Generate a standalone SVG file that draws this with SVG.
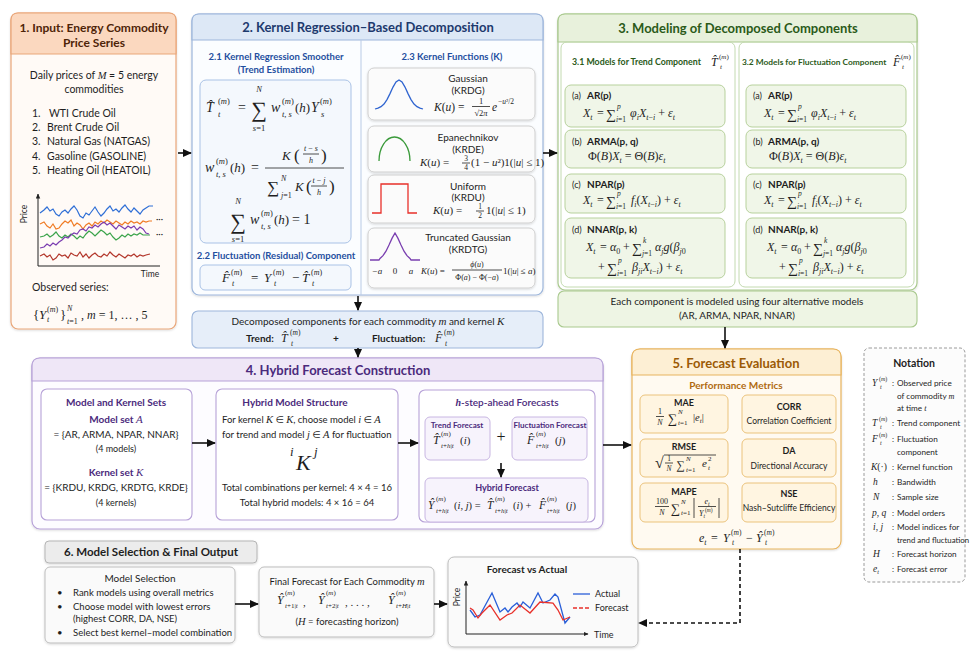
<svg xmlns="http://www.w3.org/2000/svg" width="975" height="653" viewBox="0 0 975 653">
<defs>
<marker id="ah" viewBox="0 0 10 10" refX="9" refY="5" markerWidth="9" markerHeight="9" markerUnits="userSpaceOnUse" orient="auto"><path d="M0,0.5 L10,5 L0,9.5 Z" fill="#111"/></marker>
<marker id="ahs" viewBox="0 0 10 10" refX="9" refY="5" markerWidth="5" markerHeight="5" markerUnits="userSpaceOnUse" orient="auto"><path d="M0,0.5 L10,5 L0,9.5 Z" fill="#222"/></marker>
<filter id="sh" x="-5%" y="-5%" width="110%" height="115%"><feDropShadow dx="0" dy="1" stdDeviation="1.2" flood-color="#000" flood-opacity="0.15"/></filter>
<style>
.m{font-family:"Liberation Serif","DejaVu Serif",serif;font-style:italic}
.u{font-family:"Liberation Serif","DejaVu Serif",serif;font-style:normal}
.b{font-weight:bold}
.c{text-anchor:middle}
.conn{fill:none;stroke:#111;stroke-width:1.6}
.kb{fill:#fbfbfb;stroke:#cfcfcf;stroke-width:1}
.gb{fill:#f0f6e8;stroke:#b7d19c;stroke-width:1}
.pb{fill:#ffffff;stroke:#b7a2d8;stroke-width:1.1}
.psb{fill:#f7f3fc;stroke:#c8b6e2;stroke-width:1}
.ob{fill:#fff5e1;stroke:#ebc37c;stroke-width:1}
.grb{fill:#fafafa;stroke:#bdbdbd;stroke-width:1}
.fl{stroke:#222;stroke-width:0.8}
.ax{stroke:#222;stroke-width:1;fill:none}
</style>
</defs>
<rect width="975" height="653" fill="#ffffff"/>
<g font-family="Lato, 'Open Sans', 'DejaVu Sans', sans-serif" font-size="10" fill="#1e1e1e">

<!-- Section 1 -->
<g id="input">
<rect x="11" y="13" width="165" height="316" rx="7" fill="#fffaf6" stroke="#e9a679" stroke-width="1.2" filter="url(#sh)"/>
<path d="M11,54 V20 Q11,13 18,13 H169 Q176,13 176,20 V54 Z" fill="#fbd8bf" stroke="#e9a679" stroke-width="1.2"/>
<text class="c b" x="94" y="32" font-size="12" fill="#4e2408">1. Input: Energy Commodity</text>
<text class="c b" x="94" y="47" font-size="12" fill="#4e2408">Price Series</text>
<text class="c" x="94" y="79" font-size="10.5">Daily prices of <tspan class="m">M</tspan> = 5 energy</text>
<text class="c" x="94" y="93" font-size="10.5">commodities</text>
<g font-size="10.5">
<text x="32" y="117">1.</text><text x="49" y="117">WTI Crude Oil</text>
<text x="32" y="131">2.</text><text x="47" y="131">Brent Crude Oil</text>
<text x="32" y="145">3.</text><text x="47" y="145">Natural Gas (NATGAS)</text>
<text x="32" y="160">4.</text><text x="47" y="160">Gasoline (GASOLINE)</text>
<text x="32" y="174">5.</text><text x="47" y="174">Heating Oil (HEATOIL)</text>
</g>
<line class="ax" x1="38" y1="266" x2="38" y2="194" marker-end="url(#ahs)"/>
<line class="ax" x1="38" y1="266" x2="160" y2="266"/>
<text class="c" x="0" y="0" font-size="8.5" transform="translate(27,214) rotate(-90)">Price</text>
<text class="c" x="150" y="277" font-size="8.5">Time</text>
<polyline fill="none" stroke="#2f6fd6" stroke-width="1.2" points="40,213 44,210 47,207 50,211 53,209 56,214 59,216 62,212 65,210 68,213 71,209 74,206 77,210 80,216 83,218 86,213 89,215 92,211 95,207 98,212 101,216 104,213 107,209 110,206 113,211 116,209 119,212 122,208 125,205 128,209 131,212 134,208 137,211 140,214 143,210 146,208 149,206 153,206"/>
<polyline fill="none" stroke="#f07b24" stroke-width="1.2" points="40,224 44,222 47,226 50,228 53,224 56,229 59,228 62,224 65,221 68,223 71,220 74,226 77,223 80,225 83,229 86,225 89,223 92,226 95,222 98,224 101,221 104,223 107,220 110,222 113,224 116,221 119,223 122,225 125,222 128,224 131,221 134,223 137,222 140,224 143,221 146,222 149,221 152,221"/>
<polyline fill="none" stroke="#3aa34a" stroke-width="1.2" points="40,237 44,236 47,234 50,237 53,235 56,232 59,236 62,238 65,235 68,237 71,234 74,236 77,239 80,236 83,238 86,234 89,231 92,233 95,236 98,233 101,230 104,232 107,235 110,233 113,237 116,240 119,238 122,235 125,237 128,234 131,236 134,234 137,235 140,233 143,235 146,235 150,235"/>
<polyline fill="none" stroke="#7a3bb0" stroke-width="1.2" points="40,248 44,247 47,244 50,246 53,243 56,245 59,242 62,240 65,237 68,238 71,235 74,233 77,234 80,230 83,229 86,231 89,227 92,228 95,225 98,227 101,224 104,222 107,225 110,223 113,226 116,229 119,225 122,227 125,229 128,226 131,228 134,226 137,230 140,227 143,229 146,233 149,234"/>
<polyline fill="none" stroke="#b3362b" stroke-width="1.2" points="40,256 44,254 47,257 50,255 53,260 56,258 59,254 62,256 65,255 68,258 71,253 74,255 77,256 80,252 83,257 86,254 89,258 92,255 95,253 98,256 101,257 104,254 107,256 110,252 113,255 116,257 119,254 122,256 125,258 128,255 131,256 134,254 137,257 140,255 143,256 146,255 150,254"/>
<text x="156" y="222" font-size="9">···</text>
<text x="156" y="237" font-size="9">···</text>
<text x="32" y="291" font-size="10.5">Observed series:</text>
<text class="u" x="33" y="319" font-size="13">{</text>
<text class="m" x="39" y="319" font-size="13">Y</text>
<text class="u" x="47" y="312" font-size="8">(<tspan class="m">m</tspan>)</text>
<text class="m" x="47" y="322" font-size="8">t</text>
<text class="u" x="60" y="319" font-size="13">}</text>
<text class="m" x="67" y="311" font-size="8">N</text>
<text class="m" x="67" y="324" font-size="8">t<tspan class="u">=1</tspan></text>
<text class="u" x="81" y="319" font-size="12">, <tspan class="m">m</tspan> = 1, … , 5</text>
</g>

<!-- Section 2 -->
<g id="decomposition">
<rect x="192" y="14" width="351" height="281" rx="7" fill="#fbfdff" stroke="#9db6db" stroke-width="1.2" filter="url(#sh)"/>
<path d="M192,40 V21 Q192,14 199,14 H536 Q543,14 543,21 V40 Z" fill="#dde8f6" stroke="#9db6db" stroke-width="1.2"/>
<text class="c b" x="368" y="32" font-size="13" fill="#1e3a6e">2. Kernel Regression–Based Decomposition</text>
<line x1="361" y1="40" x2="361" y2="295" stroke="#b9cbe6" stroke-width="1"/>
<text class="c b" x="276" y="60" font-size="9.5" fill="#1f4fa0">2.1 Kernel Regression Smoother</text>
<text class="c b" x="276" y="73" font-size="9.5" fill="#1f4fa0">(Trend Estimation)</text>
<rect x="200" y="80" width="151" height="163" rx="6" fill="#f4f8fd" stroke="#a9c2e6"/>
<!-- formula 1 -->
<text class="m" x="206" y="112" font-size="14">T̂</text>
<text class="u" x="218" y="104" font-size="8.5">(<tspan class="m">m</tspan>)</text>
<text class="m" x="218" y="117" font-size="8.5">t</text>
<text class="u" x="238" y="112" font-size="14">=</text>
<text class="u c" x="259" y="117" font-size="22">∑</text>
<text class="m c" x="259" y="92" font-size="8.5">N</text>
<text class="m c" x="259" y="131" font-size="8.5">s<tspan class="u">=1</tspan></text>
<text class="m" x="271" y="112" font-size="14">w</text>
<text class="u" x="282" y="104" font-size="8.5">(<tspan class="m">m</tspan>)</text>
<text class="m" x="282" y="117" font-size="8.5">t, s</text>
<text class="u" x="295" y="112" font-size="13">(<tspan class="m">h</tspan>)</text>
<text class="m" x="311" y="112" font-size="14">Y</text>
<text class="u" x="320" y="104" font-size="8.5">(<tspan class="m">m</tspan>)</text>
<text class="m" x="321" y="117" font-size="8.5">s</text>
<!-- formula 2 -->
<text class="m" x="205" y="172" font-size="14">w</text>
<text class="u" x="216" y="164" font-size="8.5">(<tspan class="m">m</tspan>)</text>
<text class="m" x="216" y="177" font-size="8.5">t, s</text>
<text class="u" x="230" y="172" font-size="13">(<tspan class="m">h</tspan>)</text>
<text class="u" x="251" y="172" font-size="14">=</text>
<line class="fl" x1="265" y1="168" x2="344" y2="168"/>
<text class="m" x="282" y="160" font-size="13">K</text>
<text class="u" x="294" y="161" font-size="17">(</text>
<text class="m c" x="311" y="151" font-size="8">t <tspan class="u">−</tspan> s</text>
<line class="fl" x1="303" y1="154" x2="319" y2="154" stroke-width="0.6"/>
<text class="m c" x="311" y="163" font-size="8">h</text>
<text class="u" x="321" y="161" font-size="17">)</text>
<text class="u c" x="273" y="193" font-size="17">∑</text>
<text class="m" x="281" y="181" font-size="8">N</text>
<text class="m" x="281" y="198" font-size="8">j<tspan class="u">=1</tspan></text>
<text class="m" x="295" y="191" font-size="13">K</text>
<text class="u" x="306" y="192" font-size="17">(</text>
<text class="m c" x="319" y="183" font-size="8">t <tspan class="u">−</tspan> j</text>
<line class="fl" x1="311" y1="186" x2="327" y2="186" stroke-width="0.6"/>
<text class="m c" x="319" y="195" font-size="8">h</text>
<text class="u" x="329" y="192" font-size="17">)</text>
<!-- formula 3 -->
<text class="u c" x="238" y="229" font-size="22">∑</text>
<text class="m c" x="238" y="204" font-size="8.5">N</text>
<text class="m c" x="238" y="242" font-size="8.5">s<tspan class="u">=1</tspan></text>
<text class="m" x="250" y="224" font-size="14">w</text>
<text class="u" x="261" y="216" font-size="8.5">(<tspan class="m">m</tspan>)</text>
<text class="m" x="261" y="229" font-size="8.5">t, s</text>
<text class="u" x="274" y="224" font-size="13">(<tspan class="m">h</tspan>)</text>
<text class="u" x="292" y="224" font-size="14">= 1</text>
<text class="c b" x="276" y="259" font-size="9.5" fill="#1f4fa0">2.2 Fluctuation (Residual) Component</text>
<rect x="200" y="265" width="151" height="25" rx="5" fill="#f4f8fd" stroke="#a9c2e6"/>
<text class="m" x="222" y="282" font-size="13">F̂</text>
<text class="u" x="231" y="275" font-size="8">(<tspan class="m">m</tspan>)</text>
<text class="m" x="232" y="286" font-size="8">t</text>
<text class="u" x="251" y="282" font-size="13">=</text>
<text class="m" x="264" y="282" font-size="13">Y</text>
<text class="u" x="273" y="275" font-size="8">(<tspan class="m">m</tspan>)</text>
<text class="m" x="274" y="286" font-size="8">t</text>
<text class="u" x="292" y="282" font-size="13">−</text>
<text class="m" x="302" y="282" font-size="13">T̂</text>
<text class="u" x="311" y="275" font-size="8">(<tspan class="m">m</tspan>)</text>
<text class="m" x="312" y="286" font-size="8">t</text>
<!-- 2.3 kernels -->
<text class="c b" x="452" y="60" font-size="9.5" fill="#1f4fa0">2.3 Kernel Functions (K)</text>
<g id="k-gauss">
<rect class="kb" x="368" y="68" width="167" height="52" rx="6" filter="url(#sh)"/>
<polyline fill="none" stroke="#2f64d0" stroke-width="1.3" points="375,109 378,108.1 381,106.7 384,104 387,99.6 390,93.6 393,87.1 396,82 399,80 402,82 405,87.1 408,93.6 411,99.6 414,104 417,106.7 420,108.1 423,109"/>
<text class="c" x="468" y="82">Gaussian</text>
<text class="c" x="468" y="94">(KRDG)</text>
<text class="m" x="434" y="111" font-size="11.5">K<tspan class="u">(</tspan>u<tspan class="u">) =</tspan></text>
<text class="u c" x="481" y="104" font-size="8.5">1</text>
<line class="fl" x1="472" y1="106.5" x2="490" y2="106.5"/>
<text class="u c" x="481" y="116" font-size="8.5">√2<tspan class="m">π</tspan></text>
<text class="m" x="492" y="111" font-size="11.5">e</text>
<text class="u" x="498" y="104" font-size="7.5">−<tspan class="m">u</tspan>²/2</text>
</g>
<g id="k-epan">
<rect class="kb" x="368" y="126" width="167" height="46" rx="6" filter="url(#sh)"/>
<path d="M379,161 A15.5,24 0 0 1 410,161" fill="none" stroke="#3a9a3a" stroke-width="1.3"/>
<text class="c" x="468" y="141">Epanechnikov</text>
<text class="c" x="468" y="153">(KRDE)</text>
<text class="m" x="420" y="166" font-size="11">K<tspan class="u">(</tspan>u<tspan class="u">) =</tspan></text>
<text class="u c" x="466" y="161" font-size="7.5">3</text>
<line class="fl" x1="462" y1="163" x2="470" y2="163" stroke-width="0.6"/>
<text class="u c" x="466" y="170" font-size="7.5">4</text>
<text class="u" x="471" y="166" font-size="11">(1 − <tspan class="m">u</tspan>²)1(|<tspan class="m">u</tspan>| ≤ 1)</text>
</g>
<g id="k-unif">
<rect class="kb" x="368" y="175" width="167" height="48" rx="6" filter="url(#sh)"/>
<path d="M372,213 H381 V184 H408 V213 H417" fill="none" stroke="#e8302a" stroke-width="1.3"/>
<text class="c" x="468" y="190">Uniform</text>
<text class="c" x="468" y="201">(KRDU)</text>
<text class="m" x="433" y="214" font-size="11">K<tspan class="u">(</tspan>u<tspan class="u">) =</tspan></text>
<text class="u c" x="480" y="209" font-size="7.5">1</text>
<line class="fl" x1="476" y1="211" x2="484" y2="211" stroke-width="0.6"/>
<text class="u c" x="480" y="218" font-size="7.5">2</text>
<text class="u" x="486" y="214" font-size="11">1(|<tspan class="m">u</tspan>| ≤ 1)</text>
</g>
<g id="k-trunc">
<rect class="kb" x="368" y="228" width="167" height="60" rx="6" filter="url(#sh)"/>
<polyline fill="none" stroke="#7a3fb0" stroke-width="1.3" points="370,260 379,260 380,258.5 383,255.7 386,251.2 389,245 392,238.4 395,233 398,238.4 401,245 404,251.2 407,255.7 410,258.5 411,260 420,260"/>
<text class="m c" x="377" y="274" font-size="9">−a</text>
<text class="u c" x="395" y="274" font-size="9">0</text>
<text class="m c" x="411" y="274" font-size="9">a</text>
<text class="c" x="468" y="241">Truncated Gaussian</text>
<text class="c" x="468" y="253">(KRDTG)</text>
<text class="m" x="421" y="274" font-size="9">K<tspan class="u">(</tspan>u<tspan class="u">) =</tspan></text>
<text class="m c" x="477" y="267" font-size="8">ϕ<tspan class="u">(</tspan>u<tspan class="u">)</tspan></text>
<line class="fl" x1="452" y1="270" x2="502" y2="270" stroke-width="0.6"/>
<text class="u c" x="477" y="280" font-size="8">Φ(<tspan class="m">a</tspan>) − Φ(−<tspan class="m">a</tspan>)</text>
<text class="u" x="503" y="274" font-size="9">1(|<tspan class="m">u</tspan>| ≤ <tspan class="m">a</tspan>)</text>
</g>
</g>

<!-- Decomposed components -->
<g id="decomposed">
<rect x="192" y="311" width="351" height="37" rx="6" fill="#e6eef9" stroke="#9db6db" stroke-width="1.1"/>
<text class="c" x="368" y="325">Decomposed components for each commodity <tspan class="m" font-size="11">m</tspan> and kernel <tspan class="m" font-size="11">K</tspan></text>
<text class="b" x="246" y="342">Trend:</text>
<text class="m" x="281" y="342" font-size="12">T̂</text>
<text class="u" x="290" y="335" font-size="7.5">(<tspan class="m">m</tspan>)</text>
<text class="m" x="291" y="346" font-size="7.5">t</text>
<text class="b" x="333" y="342">+</text>
<text class="b" x="372" y="342">Fluctuation:</text>
<text class="m" x="435" y="342" font-size="12">F̂</text>
<text class="u" x="444" y="335" font-size="7.5">(<tspan class="m">m</tspan>)</text>
<text class="m" x="445" y="346" font-size="7.5">t</text>
</g>

<!-- Section 3 -->
<g id="modeling">
<rect x="558" y="14" width="359" height="276" rx="7" fill="#ffffff" stroke="#a9c98e" stroke-width="1.2" filter="url(#sh)"/>
<path d="M558,42 V21 Q558,14 565,14 H910 Q917,14 917,21 V42 Z" fill="#e8f1dc" stroke="#a9c98e" stroke-width="1.2"/>
<text class="c b" x="738" y="33" font-size="13" fill="#2b5a19">3. Modeling of Decomposed Components</text>
<rect x="561" y="42" width="174" height="245" rx="6" fill="none" stroke="#c3dab0"/>
<rect x="739" y="42" width="175" height="245" rx="6" fill="none" stroke="#c3dab0"/>
<text class="b" x="572" y="65" font-size="8.8" fill="#2b5a19">3.1 Models for Trend Component</text>
<text class="m" x="711" y="66" font-size="12" fill="#222">T̂</text>
<text class="u" x="719" y="59" font-size="7">(<tspan class="m">m</tspan>)</text>
<text class="m" x="720" y="69" font-size="7">t</text>
<text class="b" x="742" y="65" font-size="8.4" fill="#2b5a19">3.2 Models for Fluctuation Component</text>
<text class="m" x="893" y="66" font-size="12" fill="#222">F̂</text>
<text class="u" x="901" y="59" font-size="7">(<tspan class="m">m</tspan>)</text>
<text class="m" x="902" y="69" font-size="7">t</text>

<g id="trend-models">
<rect class="gb" x="565" y="85" width="160" height="42" rx="6"/>
<text x="572" y="99" font-size="9">(a)</text>
<text class="b" x="587" y="99">AR(p)</text>
<text class="m" x="583" y="117" font-size="12">X<tspan font-size="8" dy="3">t</tspan></text>
<text class="u" x="597" y="117" font-size="12">=</text>
<text class="u" x="606" y="119" font-size="14">∑</text>
<text class="m" x="617" y="109" font-size="7.5">p</text>
<text class="m" x="616" y="122" font-size="7.5">i<tspan class="u">=1</tspan></text>
<text class="m" x="630" y="117" font-size="12">φ<tspan font-size="8" dy="3">i</tspan><tspan dy="-3">X</tspan><tspan font-size="8" dy="3">t<tspan class="u">−</tspan>i</tspan><tspan class="u" dy="-3"> + </tspan>ε<tspan font-size="8" dy="3">t</tspan></text>

<rect class="gb" x="565" y="130" width="160" height="38" rx="6"/>
<text x="572" y="145" font-size="9">(b)</text>
<text class="b" x="587" y="145">ARMA(p, q)</text>
<text class="u" x="588" y="160" font-size="12">Φ(<tspan class="m">B</tspan>)<tspan class="m">X</tspan><tspan class="m" font-size="8" dy="3">t</tspan><tspan dy="-3"> = Θ(</tspan><tspan class="m">B</tspan>)<tspan class="m">ε</tspan><tspan class="m" font-size="8" dy="3">t</tspan></text>

<rect class="gb" x="565" y="174" width="160" height="39" rx="6"/>
<text x="572" y="188" font-size="9">(c)</text>
<text class="b" x="587" y="188">NPAR(p)</text>
<text class="m" x="583" y="204" font-size="12">X<tspan font-size="8" dy="3">t</tspan></text>
<text class="u" x="597" y="204" font-size="12">=</text>
<text class="u" x="606" y="206" font-size="14">∑</text>
<text class="m" x="617" y="196" font-size="7.5">p</text>
<text class="m" x="616" y="209" font-size="7.5">i<tspan class="u">=1</tspan></text>
<text class="m" x="631" y="204" font-size="12">f<tspan font-size="8" dy="3">i</tspan><tspan class="u" dy="-3">(</tspan>X<tspan font-size="8" dy="3">t<tspan class="u">−</tspan>i</tspan><tspan class="u" dy="-3">) + </tspan>ε<tspan font-size="8" dy="3">t</tspan></text>

<rect class="gb" x="565" y="218" width="160" height="60" rx="6"/>
<text x="572" y="233" font-size="9">(d)</text>
<text class="b" x="587" y="233">NNAR(p, k)</text>
<text class="m" x="586" y="251" font-size="12">X<tspan font-size="8" dy="3">t</tspan></text>
<text class="u" x="600" y="251" font-size="12">=</text>
<text class="m" x="610" y="251" font-size="12">α<tspan class="u" font-size="8" dy="3">0</tspan></text>
<text class="u" x="623" y="251" font-size="12">+</text>
<text class="u" x="632" y="253" font-size="14">∑</text>
<text class="m" x="643" y="243" font-size="7.5">k</text>
<text class="m" x="642" y="256" font-size="7.5">j<tspan class="u">=1</tspan></text>
<text class="m" x="655" y="251" font-size="12">α<tspan font-size="8" dy="3">j</tspan><tspan dy="-3">g</tspan><tspan class="u">(</tspan>β<tspan font-size="8" dy="3">j<tspan class="u">0</tspan></tspan></text>
<text class="u" x="598" y="271" font-size="12">+</text>
<text class="u" x="607" y="273" font-size="14">∑</text>
<text class="m" x="618" y="263" font-size="7.5">p</text>
<text class="m" x="617" y="276" font-size="7.5">i<tspan class="u">=1</tspan></text>
<text class="m" x="632" y="271" font-size="12">β<tspan font-size="8" dy="3">ji</tspan><tspan dy="-3">X</tspan><tspan font-size="8" dy="3">t<tspan class="u">−</tspan>i</tspan><tspan class="u" dy="-3">) + </tspan>ε<tspan font-size="8" dy="3">t</tspan></text>
</g>

<g id="fluct-models" transform="translate(181,0)">
<rect class="gb" x="565" y="85" width="160" height="42" rx="6"/>
<text x="572" y="99" font-size="9">(a)</text>
<text class="b" x="587" y="99">AR(p)</text>
<text class="m" x="583" y="117" font-size="12">X<tspan font-size="8" dy="3">t</tspan></text>
<text class="u" x="597" y="117" font-size="12">=</text>
<text class="u" x="606" y="119" font-size="14">∑</text>
<text class="m" x="617" y="109" font-size="7.5">p</text>
<text class="m" x="616" y="122" font-size="7.5">i<tspan class="u">=1</tspan></text>
<text class="m" x="630" y="117" font-size="12">φ<tspan font-size="8" dy="3">i</tspan><tspan dy="-3">X</tspan><tspan font-size="8" dy="3">t<tspan class="u">−</tspan>i</tspan><tspan class="u" dy="-3"> + </tspan>ε<tspan font-size="8" dy="3">t</tspan></text>

<rect class="gb" x="565" y="130" width="160" height="38" rx="6"/>
<text x="572" y="145" font-size="9">(b)</text>
<text class="b" x="587" y="145">ARMA(p, q)</text>
<text class="u" x="588" y="160" font-size="12">Φ(<tspan class="m">B</tspan>)<tspan class="m">X</tspan><tspan class="m" font-size="8" dy="3">t</tspan><tspan dy="-3"> = Θ(</tspan><tspan class="m">B</tspan>)<tspan class="m">ε</tspan><tspan class="m" font-size="8" dy="3">t</tspan></text>

<rect class="gb" x="565" y="174" width="160" height="39" rx="6"/>
<text x="572" y="188" font-size="9">(c)</text>
<text class="b" x="587" y="188">NPAR(p)</text>
<text class="m" x="583" y="204" font-size="12">X<tspan font-size="8" dy="3">t</tspan></text>
<text class="u" x="597" y="204" font-size="12">=</text>
<text class="u" x="606" y="206" font-size="14">∑</text>
<text class="m" x="617" y="196" font-size="7.5">p</text>
<text class="m" x="616" y="209" font-size="7.5">i<tspan class="u">=1</tspan></text>
<text class="m" x="631" y="204" font-size="12">f<tspan font-size="8" dy="3">i</tspan><tspan class="u" dy="-3">(</tspan>X<tspan font-size="8" dy="3">t<tspan class="u">−</tspan>i</tspan><tspan class="u" dy="-3">) + </tspan>ε<tspan font-size="8" dy="3">t</tspan></text>

<rect class="gb" x="565" y="218" width="160" height="60" rx="6"/>
<text x="572" y="233" font-size="9">(d)</text>
<text class="b" x="587" y="233">NNAR(p, k)</text>
<text class="m" x="586" y="251" font-size="12">X<tspan font-size="8" dy="3">t</tspan></text>
<text class="u" x="600" y="251" font-size="12">=</text>
<text class="m" x="610" y="251" font-size="12">α<tspan class="u" font-size="8" dy="3">0</tspan></text>
<text class="u" x="623" y="251" font-size="12">+</text>
<text class="u" x="632" y="253" font-size="14">∑</text>
<text class="m" x="643" y="243" font-size="7.5">k</text>
<text class="m" x="642" y="256" font-size="7.5">j<tspan class="u">=1</tspan></text>
<text class="m" x="655" y="251" font-size="12">α<tspan font-size="8" dy="3">j</tspan><tspan dy="-3">g</tspan><tspan class="u">(</tspan>β<tspan font-size="8" dy="3">j<tspan class="u">0</tspan></tspan></text>
<text class="u" x="598" y="271" font-size="12">+</text>
<text class="u" x="607" y="273" font-size="14">∑</text>
<text class="m" x="618" y="263" font-size="7.5">p</text>
<text class="m" x="617" y="276" font-size="7.5">i<tspan class="u">=1</tspan></text>
<text class="m" x="632" y="271" font-size="12">β<tspan font-size="8" dy="3">ji</tspan><tspan dy="-3">X</tspan><tspan font-size="8" dy="3">t<tspan class="u">−</tspan>i</tspan><tspan class="u" dy="-3">) + </tspan>ε<tspan font-size="8" dy="3">t</tspan></text>
</g>
</g>

<g id="each-component">
<rect x="558" y="291" width="359" height="36" rx="6" fill="#eef5e4" stroke="#a9c98e" stroke-width="1.1"/>
<text class="c" x="737" y="305">Each component is modeled using four alternative models</text>
<text class="c" x="737" y="319">(AR, ARMA, NPAR, NNAR)</text>
</g>

<!-- Section 4 -->
<g id="hybrid">
<rect x="32" y="358" width="571" height="171" rx="8" fill="#fdfcff" stroke="#b7a2d8" stroke-width="1.2" filter="url(#sh)"/>
<path d="M32,381 V366 Q32,358 40,358 H595 Q603,358 603,366 V381 Z" fill="#efe7f7" stroke="#b7a2d8" stroke-width="1.2"/>
<text class="c b" x="338" y="375" font-size="13" fill="#4b2a7c">4. Hybrid Forecast Construction</text>
<g id="sets">
<rect class="pb" x="41" y="389" width="151" height="131" rx="6"/>
<text class="c b" x="116" y="406" fill="#4b2a7c">Model and Kernel Sets</text>
<text class="c b" x="116" y="423" fill="#4b2a7c">Model set <tspan class="m" font-weight="normal" font-size="11">A</tspan></text>
<text class="c" x="116" y="438">= {AR, ARMA, NPAR, NNAR}</text>
<text class="c" x="116" y="452" font-size="9">(4 models)</text>
<text class="c b" x="116" y="476" fill="#4b2a7c">Kernel set <tspan class="m" font-weight="normal" font-size="11">K</tspan></text>
<text class="c" x="116" y="491">= {KRDU, KRDG, KRDTG, KRDE}</text>
<text class="c" x="116" y="506" font-size="9">(4 kernels)</text>
</g>
<g id="structure">
<rect class="pb" x="216" y="389" width="182" height="131" rx="6"/>
<text class="c b" x="295" y="406" fill="#4b2a7c">Hybrid Model  Structure</text>
<text x="222" y="423" font-size="9.5">For kernel <tspan class="m" font-size="10.5">K</tspan> ∈ <tspan class="m" font-size="10.5">K</tspan>, choose model <tspan class="m" font-size="10.5">i</tspan> ∈ <tspan class="m" font-size="10.5">A</tspan></text>
<text x="222" y="438" font-size="9.5">for trend and model <tspan class="m" font-size="10.5">j</tspan> ∈ <tspan class="m" font-size="10.5">A</tspan> for fluctuation</text>
<text class="m" x="290" y="456" font-size="13">i</text>
<text class="m" x="296" y="470" font-size="22">K</text>
<text class="m" x="314" y="456" font-size="13">j</text>
<text class="c" x="307" y="491" font-size="9.5">Total combinations per kernel: 4 × 4 = 16</text>
<text class="c" x="307" y="506" font-size="9.5">Total hybrid models: 4 × 16 = 64</text>
</g>
<g id="forecasts">
<rect class="pb" x="419" y="390" width="176" height="132" rx="6"/>
<text class="c" x="507" y="406" fill="#4b2a7c" font-weight="600"><tspan class="m">h</tspan>-step-ahead Forecasts</text>
<rect class="psb" x="425" y="417" width="65" height="43" rx="5"/>
<text class="c b" x="457" y="428" font-size="8" fill="#4b2a7c">Trend Forecast</text>
<text class="m" x="433" y="444" font-size="12">T̂</text>
<text class="u" x="441" y="436" font-size="7">(<tspan class="m">m</tspan>)</text>
<text class="m" x="441" y="448" font-size="7">t<tspan class="u">+</tspan>h<tspan class="u">|</tspan>t</text>
<text class="u" x="460" y="444" font-size="11">(<tspan class="m">i</tspan>)</text>
<text class="u c" x="501" y="442" font-size="16">+</text>
<rect class="psb" x="512" y="417" width="75" height="43" rx="5"/>
<text class="c b" x="550" y="428" font-size="8" fill="#4b2a7c">Fluctuation Forecast</text>
<text class="m" x="527" y="444" font-size="12">F̂</text>
<text class="u" x="536" y="436" font-size="7">(<tspan class="m">m</tspan>)</text>
<text class="m" x="536" y="448" font-size="7">t<tspan class="u">+</tspan>h<tspan class="u">|</tspan>t</text>
<text class="u" x="555" y="444" font-size="11">(<tspan class="m">j</tspan>)</text>
<rect class="psb" x="425" y="478" width="163" height="44" rx="5"/>
<text class="c b" x="507" y="491" font-size="9" fill="#4b2a7c">Hybrid Forecast</text>
<text class="m" x="428" y="509" font-size="11.5">Ŷ</text>
<text class="u" x="436" y="501" font-size="7">(<tspan class="m">m</tspan>)</text>
<text class="m" x="436" y="513" font-size="7">t<tspan class="u">+</tspan>h<tspan class="u">|</tspan>t</text>
<text class="u" x="454" y="509" font-size="10.5">(<tspan class="m">i</tspan>, <tspan class="m">j</tspan>) =</text>
<text class="m" x="487" y="509" font-size="11.5">T̂</text>
<text class="u" x="495" y="501" font-size="7">(<tspan class="m">m</tspan>)</text>
<text class="m" x="495" y="513" font-size="7">t<tspan class="u">+</tspan>h<tspan class="u">|</tspan>t</text>
<text class="u" x="513" y="509" font-size="10.5">(<tspan class="m">i</tspan>) +</text>
<text class="m" x="539" y="509" font-size="11.5">F̂</text>
<text class="u" x="547" y="501" font-size="7">(<tspan class="m">m</tspan>)</text>
<text class="m" x="547" y="513" font-size="7">t<tspan class="u">+</tspan>h<tspan class="u">|</tspan>t</text>
<text class="u" x="566" y="509" font-size="10.5">(<tspan class="m">j</tspan>)</text>
</g>
</g>

<!-- Section 5 -->
<g id="evaluation">
<rect x="632" y="349" width="209" height="200" rx="8" fill="#fffaf1" stroke="#e8b45e" stroke-width="1.2" filter="url(#sh)"/>
<path d="M632,375 V357 Q632,349 640,349 H833 Q841,349 841,357 V375 Z" fill="#fdefd4" stroke="#e8b45e" stroke-width="1.2"/>
<text class="c b" x="736" y="368" font-size="13" fill="#9b5a05">5. Forecast Evaluation</text>
<text class="c b" x="736" y="389" font-size="10" fill="#b06a10">Performance Metrics</text>
<rect class="ob" x="640" y="395" width="88" height="38" rx="5"/>
<rect class="ob" x="742" y="395" width="94" height="38" rx="5"/>
<rect class="ob" x="640" y="439" width="88" height="38" rx="5"/>
<rect class="ob" x="742" y="439" width="94" height="38" rx="5"/>
<rect class="ob" x="640" y="483" width="88" height="39" rx="5"/>
<rect class="ob" x="742" y="483" width="94" height="39" rx="5"/>
<text class="c b" x="684" y="406" font-size="9">MAE</text>
<text class="u c" x="660" y="414" font-size="8">1</text>
<line class="fl" x1="656" y1="416.5" x2="664" y2="416.5" stroke-width="0.6"/>
<text class="m c" x="660" y="425" font-size="8">N</text>
<text class="u" x="668" y="423" font-size="13">∑</text>
<text class="m" x="678" y="414" font-size="7">N</text>
<text class="m" x="678" y="425" font-size="7">t<tspan class="u">=1</tspan></text>
<text class="u" x="693" y="421" font-size="10.5">|<tspan class="m">e</tspan><tspan class="m" font-size="7" dy="2">t</tspan><tspan dy="-2">|</tspan></text>
<text class="c b" x="789" y="410" font-size="9">CORR</text>
<text class="c" x="789" y="424" font-size="8.5">Correlation Coefficient</text>
<text class="c b" x="684" y="450" font-size="9">RMSE</text>
<text class="u" x="655" y="468" font-size="16">√</text>
<line class="fl" x1="664" y1="455" x2="716" y2="455"/>
<text class="u c" x="669" y="461" font-size="7.5">1</text>
<line class="fl" x1="665" y1="463" x2="673" y2="463" stroke-width="0.6"/>
<text class="m c" x="669" y="471" font-size="7.5">N</text>
<text class="u" x="676" y="469" font-size="12">∑</text>
<text class="m" x="686" y="461" font-size="7">N</text>
<text class="m" x="686" y="472" font-size="7">t<tspan class="u">=1</tspan></text>
<text class="m" x="702" y="467" font-size="11">e</text>
<text class="u" x="708" y="461" font-size="7">2</text>
<text class="m" x="708" y="470" font-size="7">t</text>
<text class="c b" x="789" y="454" font-size="9">DA</text>
<text class="c" x="789" y="469" font-size="8.5">Directional Accuracy</text>
<text class="c b" x="684" y="495" font-size="9">MAPE</text>
<text class="u c" x="662" y="504" font-size="8">100</text>
<line class="fl" x1="655" y1="506.5" x2="669" y2="506.5" stroke-width="0.6"/>
<text class="m c" x="662" y="515" font-size="8">N</text>
<text class="u" x="671" y="513" font-size="13">∑</text>
<text class="m" x="681" y="504" font-size="7">N</text>
<text class="m" x="681" y="515" font-size="7">t<tspan class="u">=1</tspan></text>
<line class="fl" x1="694" y1="498" x2="694" y2="518"/>
<text class="m c" x="707" y="504" font-size="8">e<tspan font-size="6" dy="2">t</tspan></text>
<line class="fl" x1="698" y1="506.5" x2="716" y2="506.5" stroke-width="0.6"/>
<text class="m" x="699" y="516" font-size="8">Y<tspan font-size="5.5" dy="2">t</tspan><tspan class="u" font-size="5.5" dy="-6">(</tspan><tspan font-size="5.5">m</tspan><tspan class="u" font-size="5.5">)</tspan></text>
<line class="fl" x1="719" y1="498" x2="719" y2="518"/>
<text class="c b" x="789" y="497" font-size="9">NSE</text>
<text class="c" x="789" y="511" font-size="8.5">Nash–Sutcliffe Efficiency</text>
<text class="m" x="699" y="542" font-size="12">e<tspan font-size="8" dy="3">t</tspan></text>
<text class="u" x="711" y="542" font-size="12">=</text>
<text class="m" x="723" y="542" font-size="12">Y</text>
<text class="u" x="731" y="535" font-size="7.5">(<tspan class="m">m</tspan>)</text>
<text class="m" x="732" y="545" font-size="7.5">t</text>
<text class="u" x="746" y="542" font-size="12">−</text>
<text class="m" x="756" y="542" font-size="12">Ŷ</text>
<text class="u" x="764" y="535" font-size="7.5">(<tspan class="m">m</tspan>)</text>
<text class="m" x="765" y="545" font-size="7.5">t</text>
</g>

<!-- Notation -->
<g id="notation">
<rect x="864" y="348" width="101" height="234" rx="5" fill="#fcfcfc" stroke="#9a9a9a" stroke-dasharray="3,2"/>
<text class="c b" x="914" y="367" font-size="10.5">Notation</text>
<g font-size="8.2">
<text class="m" x="872" y="386" font-size="9.5">Y</text><text class="u" x="879" y="381" font-size="6">(<tspan class="m">m</tspan>)</text><text class="m" x="880" y="389" font-size="6">t</text>
<text x="892" y="386">:</text><text x="897" y="386">Observed price</text>
<text x="897" y="399">of commodity <tspan class="m">m</tspan></text>
<text x="897" y="411">at time <tspan class="m">t</tspan></text>
<text class="m" x="872" y="426" font-size="9.5">T</text><text class="u" x="879" y="421" font-size="6">(<tspan class="m">m</tspan>)</text><text class="m" x="880" y="429" font-size="6">t</text>
<text x="892" y="426">:</text><text x="897" y="426">Trend component</text>
<text class="m" x="872" y="442" font-size="9.5">F</text><text class="u" x="879" y="437" font-size="6">(<tspan class="m">m</tspan>)</text><text class="m" x="880" y="445" font-size="6">t</text>
<text x="892" y="442">:</text><text x="897" y="442">Fluctuation</text>
<text x="897" y="455">component</text>
<text class="m" x="871" y="470" font-size="9.5">K<tspan class="u">(·)</tspan></text>
<text x="892" y="470">:</text><text x="897" y="470">Kernel function</text>
<text class="m" x="873" y="485" font-size="9.5">h</text>
<text x="892" y="485">:</text><text x="897" y="485">Bandwidth</text>
<text class="m" x="873" y="500" font-size="9.5">N</text>
<text x="892" y="500">:</text><text x="897" y="500">Sample size</text>
<text class="m" x="872" y="516" font-size="9.5">p<tspan class="u">, </tspan>q</text>
<text x="892" y="516">:</text><text x="897" y="516">Model orders</text>
<text class="m" x="873" y="530" font-size="9.5">i<tspan class="u">, </tspan>j</text>
<text x="892" y="530">:</text><text x="897" y="530">Model indices for</text>
<text x="897" y="543" font-size="7.8">trend and fluctuation</text>
<text class="m" x="873" y="557" font-size="9.5">H</text>
<text x="892" y="557">:</text><text x="897" y="557">Forecast horizon</text>
<text class="m" x="873" y="572" font-size="9.5">e<tspan font-size="6" dy="2">t</tspan></text>
<text x="892" y="572">:</text><text x="897" y="572">Forecast error</text>
</g>
</g>

<!-- Section 6 -->
<g id="selection-header">
<rect x="45" y="541" width="212" height="22" rx="4" fill="#ececec" stroke="#b5b5b5" filter="url(#sh)"/>
<text class="c b" x="151" y="556" font-size="11.5">6. Model Selection &amp; Final Output</text>
</g>
<g id="model-selection">
<rect class="grb" x="45" y="567" width="190" height="76" rx="5" filter="url(#sh)"/>
<text class="c" x="140" y="582">Model Selection</text>
<g font-size="9.5">
<text x="57" y="596">•</text><text x="73" y="596">Rank models using overall metrics</text>
<text x="57" y="610">•</text><text x="73" y="610">Choose model with lowest errors</text>
<text x="73" y="622">(highest CORR, DA, NSE)</text>
<text x="57" y="636">•</text><text x="73" y="636">Select best kernel–model combination</text>
</g>
</g>
<g id="final-forecast">
<rect class="grb" x="259" y="567" width="175" height="70" rx="5" filter="url(#sh)"/>
<text class="c" x="347" y="585" font-size="9.5">Final Forecast for Each Commodity <tspan class="m" font-size="10.5">m</tspan></text>
<text class="m" x="277" y="604" font-size="12">Ŷ</text>
<text class="u" x="285" y="595" font-size="7">(<tspan class="m">m</tspan>)</text>
<text class="m" x="285" y="608" font-size="7">t<tspan class="u">+1|</tspan>t</text>
<text class="u" x="303" y="606" font-size="11">,</text>
<text class="m" x="318" y="604" font-size="12">Ŷ</text>
<text class="u" x="326" y="595" font-size="7">(<tspan class="m">m</tspan>)</text>
<text class="m" x="326" y="608" font-size="7">t<tspan class="u">+2|</tspan>t</text>
<text class="u" x="345" y="606" font-size="11">, . . . ,</text>
<text class="m" x="388" y="604" font-size="12">Ŷ</text>
<text class="u" x="396" y="595" font-size="7">(<tspan class="m">m</tspan>)</text>
<text class="m" x="396" y="608" font-size="7">t<tspan class="u">+</tspan>H<tspan class="u">|</tspan>t</text>
<text class="c" x="347" y="625" font-size="9.5">(<tspan class="m" font-size="10.5">H</tspan> = forecasting horizon)</text>
</g>
<g id="forecast-vs-actual">
<rect class="grb" x="448" y="557" width="190" height="90" rx="6" filter="url(#sh)"/>
<text class="c b" x="527" y="573">Forecast vs Actual</text>
<line class="ax" x1="466" y1="634" x2="466" y2="581" marker-end="url(#ahs)"/>
<line class="ax" x1="466" y1="634" x2="588" y2="634" marker-end="url(#ahs)"/>
<text class="c" x="0" y="0" font-size="8.5" transform="translate(460,597) rotate(-90)">Price</text>
<text x="594" y="638" font-size="9">Time</text>
<polyline fill="none" stroke="#2a5fd8" stroke-width="1.3" points="470,610 475,617 480,615 492,593 500,612 505,608 508,612 512,607 517,603 520,607 523,602 530,608 538,593 543,603 550,600 555,594 558,597 565,623 570,617"/>
<polyline fill="none" stroke="#e8302a" stroke-width="1.3" points="470,608 473,610 478,618 482,613 490,605 500,620 507,615 512,613 520,605 530,613 540,602 553,603 558,610 563,620 570,617"/>
<line x1="573" y1="594" x2="590" y2="594" stroke="#2a5fd8" stroke-width="1.3"/>
<text x="595" y="597" font-size="9">Actual</text>
<line x1="573" y1="608" x2="590" y2="608" stroke="#e8302a" stroke-width="1.3" stroke-dasharray="4,2"/>
<text x="595" y="611" font-size="9">Forecast</text>
</g>

<!-- Connectors -->
<g id="connectors">
<path class="conn" d="M178,153 H191" marker-end="url(#ah)"/>
<path class="conn" d="M543,153 H557" marker-end="url(#ah)"/>
<path class="conn" d="M358,296 V310" marker-end="url(#ah)"/>
<path class="conn" d="M358,348 V357" marker-end="url(#ah)"/>
<path class="conn" d="M725,327 V348" marker-end="url(#ah)"/>
<path class="conn" d="M192,443 H215" marker-end="url(#ah)"/>
<path class="conn" d="M398,443 H418" marker-end="url(#ah)"/>
<path class="conn" d="M501,463 V477" marker-end="url(#ah)"/>
<path class="conn" d="M603,445 H631" marker-end="url(#ah)"/>
<path class="conn" d="M235,604 H258" marker-end="url(#ah)"/>
<path class="conn" d="M434,604 H447" marker-end="url(#ah)"/>
<path class="conn" d="M740,549 V623 H639" stroke-dasharray="4,3" stroke-width="1.2" marker-end="url(#ah)"/>
</g>
</g>
</svg>
